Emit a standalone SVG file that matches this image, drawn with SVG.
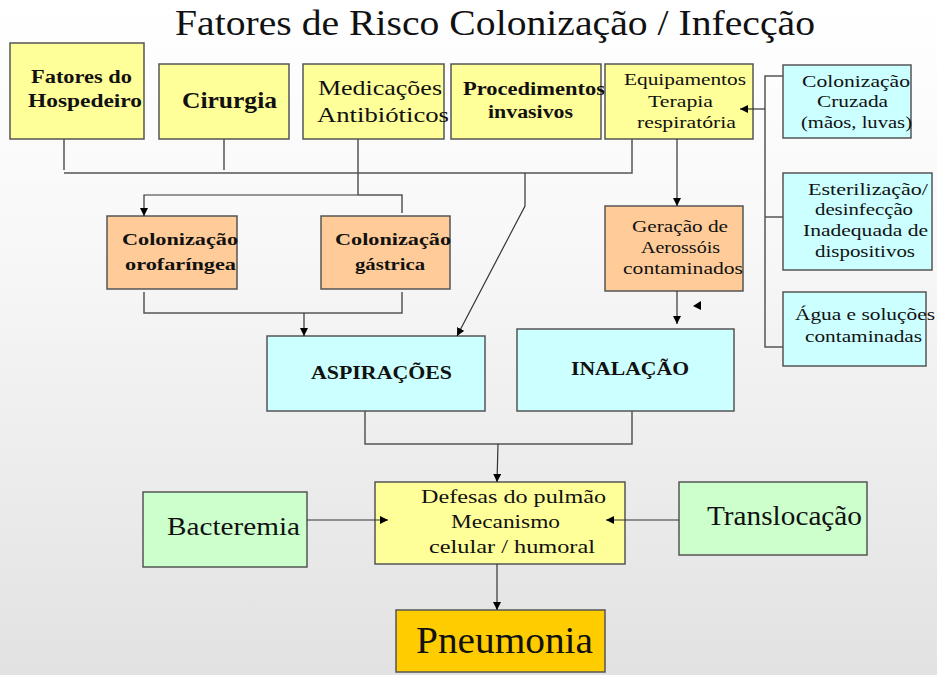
<svg xmlns="http://www.w3.org/2000/svg" width="937" height="675" viewBox="0 0 937 675" font-family="Liberation Serif, serif">
<style>
.box{stroke:#555;stroke-width:1.5}
.y{fill:#ffff99}.o{fill:#ffcc99}.c{fill:#ccffff}.g{fill:#ccffcc}.p{fill:#ffcc00}
text{fill:#111}
.b{font-weight:bold}
.line{fill:none;stroke:#555;stroke-width:1.5}
.arrow{fill:none;stroke:#333;stroke-width:1.2;marker-end:url(#arr)}
</style>
<defs>
<linearGradient id="bg" x1="0" y1="0" x2="0" y2="1">
<stop offset="0" stop-color="#ffffff"/>
<stop offset="0.35" stop-color="#f8f8f8"/>
<stop offset="1" stop-color="#e2e2e2"/>
</linearGradient>
<marker id="arr" viewBox="0 0 10 10" refX="10" refY="5" markerWidth="8" markerHeight="8" markerUnits="userSpaceOnUse" orient="auto">
<path d="M0,0 L10,5 L0,10 Z" fill="#000"/>
</marker>
</defs>
<rect x="0" y="0" width="937" height="675" fill="url(#bg)"/>
<text font-family="Liberation Serif, serif" x="175" y="35" font-size="36" textLength="640" lengthAdjust="spacingAndGlyphs">Fatores de Risco Colonização / Infecção</text>

<g id="fatores" font-family="Liberation Serif, serif">
<rect class="box y" x="10" y="43" width="134" height="96"/>
<text class="b" x="31" y="83" font-size="18" textLength="101" lengthAdjust="spacingAndGlyphs">Fatores do</text>
<text class="b" x="28" y="107" font-size="18" textLength="114" lengthAdjust="spacingAndGlyphs">Hospedeiro</text>
</g>
<g id="cirurgia" font-family="Liberation Serif, serif">
<rect class="box y" x="159" y="64" width="130" height="75"/>
<text class="b" x="182" y="108" font-size="23" textLength="95" lengthAdjust="spacingAndGlyphs">Cirurgia</text>
</g>
<g id="medicacoes" font-family="Liberation Serif, serif">
<rect class="box y" x="303" y="64" width="141" height="75"/>
<text x="318" y="95" font-size="21" textLength="124" lengthAdjust="spacingAndGlyphs">Medicações</text>
<text x="317" y="122" font-size="21" textLength="132" lengthAdjust="spacingAndGlyphs">Antibióticos</text>
</g>
<g id="procedimentos" font-family="Liberation Serif, serif">
<rect class="box y" x="451" y="64" width="150" height="75"/>
<text class="b" x="463" y="95" font-size="18" textLength="142" lengthAdjust="spacingAndGlyphs">Procedimentos</text>
<text class="b" x="488" y="118" font-size="18" textLength="85" lengthAdjust="spacingAndGlyphs">invasivos</text>
</g>
<g id="equipamentos" font-family="Liberation Serif, serif">
<rect class="box y" x="605" y="64" width="148" height="75"/>
<text x="624" y="85" font-size="16" textLength="122" lengthAdjust="spacingAndGlyphs">Equipamentos</text>
<text x="648" y="107" font-size="16" textLength="65" lengthAdjust="spacingAndGlyphs">Terapia</text>
<text x="637" y="128" font-size="16" textLength="99" lengthAdjust="spacingAndGlyphs">respiratória</text>
</g>
<g id="cruzada" font-family="Liberation Serif, serif">
<rect class="box c" x="783" y="65" width="128" height="73"/>
<text x="802" y="87" font-size="16" textLength="108" lengthAdjust="spacingAndGlyphs">Colonização</text>
<text x="817" y="107" font-size="16" textLength="71" lengthAdjust="spacingAndGlyphs">Cruzada</text>
<text x="801" y="128" font-size="16" textLength="111" lengthAdjust="spacingAndGlyphs">(mãos, luvas)</text>
</g>
<g id="esterilizacao" font-family="Liberation Serif, serif">
<rect class="box c" x="783" y="173" width="149" height="97"/>
<text x="808" y="195" font-size="16" textLength="120" lengthAdjust="spacingAndGlyphs">Esterilização/</text>
<text x="815" y="215" font-size="16" textLength="98" lengthAdjust="spacingAndGlyphs">desinfecção</text>
<text x="803" y="236" font-size="16" textLength="125" lengthAdjust="spacingAndGlyphs">Inadequada de</text>
<text x="815" y="257" font-size="16" textLength="100" lengthAdjust="spacingAndGlyphs">dispositivos</text>
</g>
<g id="agua" font-family="Liberation Serif, serif">
<rect class="box c" x="783" y="292" width="143" height="74"/>
<text x="795" y="320" font-size="16" textLength="140" lengthAdjust="spacingAndGlyphs">Água e soluções</text>
<text x="805" y="342" font-size="16" textLength="117" lengthAdjust="spacingAndGlyphs">contaminadas</text>
</g>
<g id="geracao" font-family="Liberation Serif, serif">
<rect class="box o" x="605" y="206" width="138" height="85"/>
<text x="632" y="232" font-size="16" textLength="96" lengthAdjust="spacingAndGlyphs">Geração de</text>
<text x="641" y="253" font-size="16" textLength="79" lengthAdjust="spacingAndGlyphs">Aerossóis</text>
<text x="623" y="274" font-size="16" textLength="120" lengthAdjust="spacingAndGlyphs">contaminados</text>
</g>
<g id="orofaringea" font-family="Liberation Serif, serif">
<rect class="box o" x="107" y="216" width="130" height="73"/>
<text class="b" x="122" y="245" font-size="17" textLength="116" lengthAdjust="spacingAndGlyphs">Colonização</text>
<text class="b" x="125" y="270" font-size="17" textLength="111" lengthAdjust="spacingAndGlyphs">orofaríngea</text>
</g>
<g id="gastrica" font-family="Liberation Serif, serif">
<rect class="box o" x="321" y="216" width="129" height="73"/>
<text class="b" x="335" y="245" font-size="17" textLength="116" lengthAdjust="spacingAndGlyphs">Colonização</text>
<text class="b" x="355" y="270" font-size="17" textLength="70" lengthAdjust="spacingAndGlyphs">gástrica</text>
</g>
<g id="aspiracoes" font-family="Liberation Serif, serif">
<rect class="box c" x="267" y="336" width="218" height="75"/>
<text class="b" x="311" y="379" font-size="18" textLength="141" lengthAdjust="spacingAndGlyphs">ASPIRAÇÕES</text>
</g>
<g id="inalacao" font-family="Liberation Serif, serif">
<rect class="box c" x="517" y="329" width="217" height="82"/>
<text class="b" x="571" y="375" font-size="19" textLength="118" lengthAdjust="spacingAndGlyphs">INALAÇÃO</text>
</g>
<g id="defesas" font-family="Liberation Serif, serif">
<rect class="box y" x="375" y="482" width="250" height="82"/>
<text x="421" y="503" font-size="19" textLength="185" lengthAdjust="spacingAndGlyphs">Defesas do pulmão</text>
<text x="451" y="528" font-size="19" textLength="109" lengthAdjust="spacingAndGlyphs">Mecanismo</text>
<text x="429" y="553" font-size="19" textLength="166" lengthAdjust="spacingAndGlyphs">celular / humoral</text>
</g>
<g id="bacteremia" font-family="Liberation Serif, serif">
<rect class="box g" x="143" y="492" width="164" height="75"/>
<text x="167" y="535" font-size="25" textLength="133" lengthAdjust="spacingAndGlyphs">Bacteremia</text>
</g>
<g id="translocacao" font-family="Liberation Serif, serif">
<rect class="box g" x="679" y="482" width="188" height="73"/>
<text x="707" y="525" font-size="28" textLength="155" lengthAdjust="spacingAndGlyphs">Translocação</text>
</g>
<g id="pneumonia" font-family="Liberation Serif, serif">
<rect class="box p" x="396" y="610" width="209" height="62"/>
<text x="416" y="653" font-size="37" textLength="177" lengthAdjust="spacingAndGlyphs">Pneumonia</text>
</g>

<g id="connectors">
<polyline class="line" points="64,139 64,170"/>
<polyline class="line" points="224,139 224,170"/>
<polyline class="line" points="64,173 632,173 632,139"/>
<polyline class="line" points="358,139 358,195"/>
<polyline class="arrow" points="358,195 144,195 144,216"/>
<polyline class="line" points="358,195 402,195 402,213"/>
<polyline class="arrow" points="525,173 525,206 457,336"/>
<polyline class="arrow" points="677,139 677,206"/>
<polyline class="arrow" points="677,291 677,324"/>
<polygon points="693,306 701,301 701,310" fill="#000"/>
<polyline class="line" points="783,76 765,76 765,347 783,347"/>
<polyline class="line" points="765,217 783,217"/>
<polyline class="arrow" points="765,109 740,109"/>
<polyline class="line" points="144,292 144,313 402,313 402,292"/>
<polyline class="arrow" points="304,313 304,336"/>
<polyline class="line" points="365,411 365,444 632,444 632,411"/>
<polyline class="arrow" points="498,444 497,482"/>
<polyline class="arrow" points="307,520 388,520"/>
<polyline class="arrow" points="679,520 606,520"/>
<polyline class="arrow" points="497,564 497,610"/>
</g>
</svg>
